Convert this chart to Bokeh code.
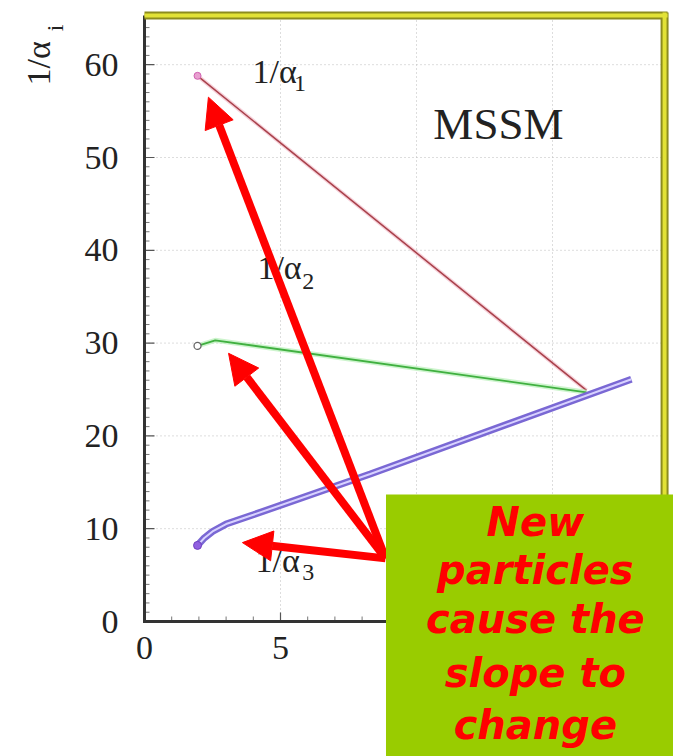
import math
from bokeh.plotting import figure
from bokeh.models import Range1d, BoxAnnotation, Label, Arrow, NormalHead
from bokeh.core.properties import value
from bokeh.embed import file_html
from bokeh.resources import INLINE

# ---- data (x = log10(mu/GeV), y = 1/alpha_i) ----
a1_x = [1.95, 16.25]
a1_y = [58.8, 24.9]
a2_x = [1.95, 2.6, 16.25]
a2_y = [29.7, 30.3, 24.7]
a3_x = [1.95, 2.2, 2.5, 3.0, 4.0, 8.3, 17.9]
a3_y = [8.2, 9.0, 9.7, 10.5, 11.5, 15.9, 26.1]

x_ticks = [0, 5, 10, 15]
x_tick_labels = ["0", "5", "10", "15"]
y_ticks = [0, 10, 20, 30, 40, 50, 60]
y_tick_labels = ["0", "10", "20", "30", "40", "50", "60"]

# annotation anchors (data units)
arrow_tail = (8.86, 6.8)
arrow_tips_x = [2.35, 3.09, 3.6]
arrow_tips_y = [56.5, 28.9, 8.5]

note_lines = ["New", "particles", "cause the", "slope to", "change"]
note_y = [10.67, 5.5, 0.32, -5.6, -11.2]

# ---- geometry: the drawing area covers the whole page ----
W, H = 673, 756
X0PX, Y0PX = 144, 621          # pixel position of data origin
SX, SY = 27.2, 9.28            # pixels per data unit
XMAX, YMAX = 19.12, 65.3       # plotting-box extent (data)

def dx(px):
    return px / SX

def dy(px):
    return px / SY

p = figure(width=W, height=H, output_backend="svg", toolbar_location=None,
           x_range=Range1d(-X0PX / SX, (W - X0PX) / SX),
           y_range=Range1d((Y0PX - H) / SY, Y0PX / SY),
           x_axis_type=None, y_axis_type=None,
           min_border=0, min_border_left=0, min_border_right=0,
           min_border_top=0, min_border_bottom=0)
p.background_fill_color = "white"
p.border_fill_color = "white"
p.outline_line_color = None
p.grid.visible = False

SERIF = value("Liberation Serif")

# grid (dotted)
gx = [t for t in x_ticks if t > 0]
p.segment(x0=gx, y0=[0] * len(gx), x1=gx, y1=[YMAX] * len(gx),
          line_color="#bbbbbb", line_dash="1 3", line_width=1)
gy = [t for t in y_ticks if t > 0]
p.segment(x0=[0] * len(gy), y0=gy, x1=[XMAX] * len(gy), y1=gy,
          line_color="#bbbbbb", line_dash="1 3", line_width=1)

# minor ticks (every unit), inward
mx = [i for i in range(1, int(XMAX) + 1) if i not in x_ticks]
p.segment(x0=mx, y0=[0] * len(mx), x1=mx, y1=[dy(5)] * len(mx),
          line_color="#777777", line_width=1)
my = [i for i in range(1, int(YMAX) + 1) if i not in y_ticks]
p.segment(x0=[0] * len(my), y0=my, x1=[dx(5)] * len(my), y1=my,
          line_color="#777777", line_width=1)
# major ticks, inward
p.segment(x0=x_ticks, y0=[0] * len(x_ticks), x1=x_ticks, y1=[dy(9)] * len(x_ticks),
          line_color="#555555", line_width=1.2)
p.segment(x0=[0] * len(y_ticks), y0=y_ticks, x1=[dx(10)] * len(y_ticks), y1=y_ticks,
          line_color="#555555", line_width=1.2)

# axis lines
p.segment(x0=[0, -dx(1.5)], y0=[-dy(1.5), 0], x1=[0, XMAX], y1=[YMAX, 0],
          line_color="#333333", line_width=3)

# yellow frame on top and right
for w, c in ((8, "#8c8c1e"), (4, "#e2e236")):
    p.segment(x0=[0, XMAX], y0=[YMAX, YMAX + dy(3)], x1=[XMAX + dx(3), XMAX],
              y1=[YMAX, -dy(200)], line_color=c, line_width=w)

# tick labels
p.text(x=[-dx(26)] * len(y_ticks), y=y_ticks, text=y_tick_labels, text_font=SERIF,
       text_font_size="34px", text_color="#222222", text_align="right",
       text_baseline="middle")
p.text(x=x_ticks, y=[-dy(26)] * len(x_ticks), text=x_tick_labels, text_font=SERIF,
       text_font_size="34px", text_color="#222222", text_align="center",
       text_baseline="middle")

# curves
p.line(a1_x, a1_y, line_color="#f0b0c0", line_width=4, line_alpha=0.6)
p.line(a1_x, a1_y, line_color="#a8404a", line_width=1.5)
p.scatter(a1_x[:1], a1_y[:1], size=7, marker="circle", fill_color="#e8a0d0",
          line_color="#d060b0")

p.line(a2_x, a2_y, line_color="#b8f0b8", line_width=5, line_alpha=0.7)
p.line(a2_x, a2_y, line_color="#40b040", line_width=1.8)
p.scatter(a2_x[:1], a2_y[:1], size=7, marker="circle", fill_color="white",
          line_color="#666666", line_width=1.3)

p.line(a3_x, a3_y, line_color="#7a68d4", line_width=7)
p.line(a3_x, a3_y, line_color="#d8d2ff", line_width=2)
p.scatter(a3_x[:1], a3_y[:1], size=8, marker="circle", fill_color="#9060e0",
          line_color="#7040c0")

def lab(x, y, t, size, angle=0.0):
    p.text(x=[x], y=[y], text=[t], text_font=SERIF, text_font_size=size,
           text_color="#222222", text_align="left", text_baseline="middle",
           angle=angle)

lab(3.97, 59.3, "1/α", "34px")
lab(5.5, 58.0, "1", "24px")
lab(4.15, 38.1, "1/α", "34px")
lab(5.8, 36.6, "2", "24px")
lab(4.08, 6.6, "1/α", "34px")
lab(5.8, 5.3, "3", "24px")
lab(10.62, 53.66, "MSSM", "45px")
# y-axis title
lab(-3.9, 57.76, "1/α", "34px", angle=math.pi / 2)
lab(-3.3, 63.6, "i", "24px", angle=math.pi / 2)

# arrows
for tx, ty in zip(arrow_tips_x, arrow_tips_y):
    p.add_layout(Arrow(x_start=arrow_tail[0], y_start=arrow_tail[1], x_end=tx, y_end=ty,
                       line_color="#ff0000", line_width=8,
                       end=NormalHead(size=30, fill_color="#ff0000",
                                      line_color="#ff0000", line_width=1)))

# note box
p.add_layout(BoxAnnotation(left=arrow_tail[0] + dx(0.5), right=XMAX + 5, top=13.69,
                           bottom=-30, fill_color="#99cc00", fill_alpha=1.0,
                           line_color=None))
for t, y in zip(note_lines, note_y):
    p.add_layout(Label(x=14.37, y=y, text=t, text_align="center", text_baseline="middle",
                       text_font="DejaVu Sans", text_font_style="bold italic",
                       text_font_size="40px", text_color="#ff0000"))

open("out.html", "w").write(file_html(p, INLINE))
